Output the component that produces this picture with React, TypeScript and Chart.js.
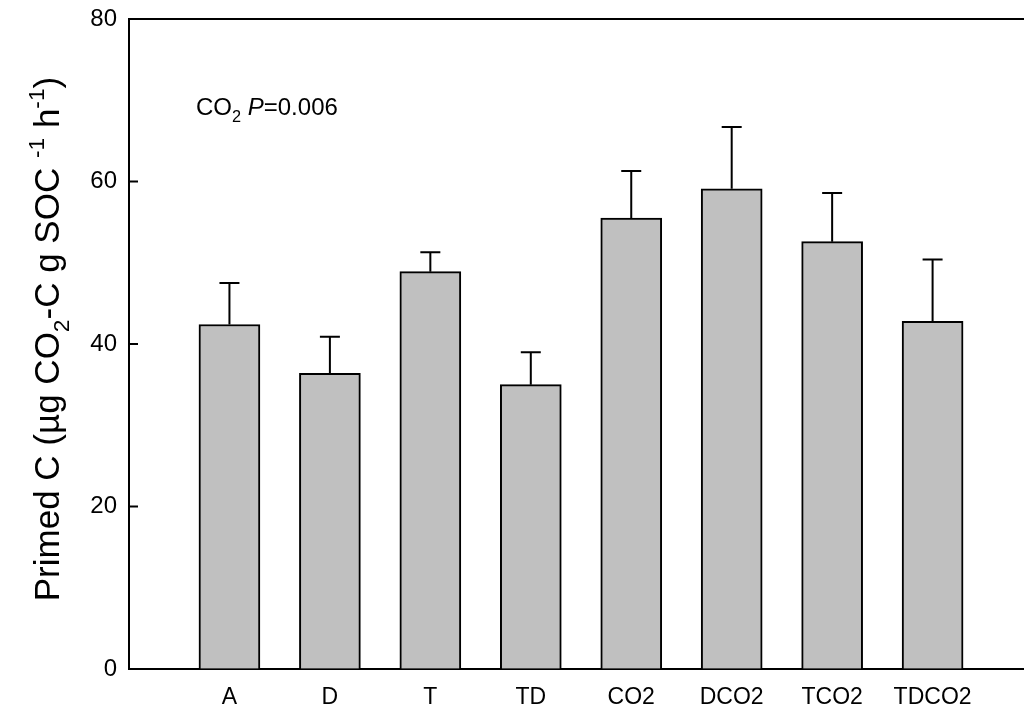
import React, { useEffect, useRef } from 'react';
import { Chart, registerables } from 'chart.js';

Chart.register(...registerables);

const categories = ['A', 'D', 'T', 'TD', 'CO2', 'DCO2', 'TCO2', 'TDCO2'];
const means = [42.4, 36.4, 48.9, 35.0, 55.5, 59.1, 52.6, 42.8];
const errors = [5.1, 4.5, 2.4, 4.0, 5.8, 7.6, 6.0, 7.6];
const yTicks = [0, 20, 40, 60, 80];

const FONT = '"Liberation Sans", Arial, Helvetica, sans-serif';

type Seg = { text: string; size: number; dy?: number; italic?: boolean };

function segFont(s: Seg) {
  return `${s.italic ? 'italic ' : ''}${s.size}px ${FONT}`;
}

function drawRich(ctx: CanvasRenderingContext2D, segs: Seg[], x: number, y: number, align: 'left' | 'center') {
  let total = 0;
  for (const s of segs) {
    ctx.font = segFont(s);
    total += ctx.measureText(s.text).width;
  }
  let cx = align === 'center' ? x - total / 2 : x;
  ctx.textAlign = 'left';
  ctx.textBaseline = 'alphabetic';
  for (const s of segs) {
    ctx.font = segFont(s);
    ctx.fillText(s.text, cx, y + (s.dy || 0));
    cx += ctx.measureText(s.text).width;
  }
}

const TS = 35;
const titleSegs: Seg[] = [
  { text: 'Primed C (\u00b5g CO', size: TS },
  { text: '2', size: TS * 0.65, dy: TS * 0.28 },
  { text: '-C g SOC ', size: TS },
  { text: '-1', size: TS * 0.65, dy: -TS * 0.42 },
  { text: ' h', size: TS },
  { text: '-1', size: TS * 0.65, dy: -TS * 0.42 },
  { text: ')', size: TS },
];

const AS = 24;
const annotSegs: Seg[] = [
  { text: 'CO', size: AS },
  { text: '2', size: AS * 0.68, dy: AS * 0.28 },
  { text: ' ', size: AS },
  { text: 'P', size: AS, italic: true },
  { text: '=0.006', size: AS },
];
const annotX = 0.667;
const annotY = 68.2;

const framePlugin = {
  id: 'frame',
  afterDatasetsDraw(chart: any) {
    const { ctx, chartArea } = chart;
    const y = chart.scales.y;
    const meta = chart.getDatasetMeta(0);
    ctx.save();
    ctx.strokeStyle = '#000';
    ctx.lineWidth = 2;
    meta.data.forEach((bar: any, i: number) => {
      const top = y.getPixelForValue(means[i] + errors[i]);
      ctx.beginPath();
      ctx.moveTo(bar.x, bar.y);
      ctx.lineTo(bar.x, top);
      ctx.moveTo(bar.x - 10, top);
      ctx.lineTo(bar.x + 10, top);
      ctx.stroke();
    });
    // top border
    ctx.beginPath();
    ctx.moveTo(chartArea.left - 1, chartArea.top);
    ctx.lineTo(chartArea.right, chartArea.top);
    ctx.stroke();
    // inward ticks
    yTicks.forEach((v) => {
      const py = y.getPixelForValue(v);
      ctx.beginPath();
      ctx.moveTo(chartArea.left, py);
      ctx.lineTo(chartArea.left + 9, py);
      ctx.stroke();
    });
    ctx.restore();
  },
  afterDraw(chart: any) {
    const { ctx } = chart;
    const x = chart.scales.x;
    const y = chart.scales.y;
    ctx.save();
    ctx.fillStyle = '#000';
    drawRich(ctx, annotSegs, x.getPixelForValue(annotX), y.getPixelForValue(annotY), 'left');
    ctx.translate(59, 339);
    ctx.rotate(-Math.PI / 2);
    drawRich(ctx, titleSegs, 0, 0, 'center');
    ctx.restore();
  },
};

export default function App() {
  const ref = useRef<HTMLCanvasElement | null>(null);
  useEffect(() => {
    if (!ref.current) return;
    const chart = new Chart(ref.current, {
      type: 'bar',
      data: {
        datasets: [
          {
            data: means.map((m, i) => ({ x: i + 1, y: m })),
            backgroundColor: '#c0c0c0',
            borderColor: '#000',
            borderWidth: 2,
            barThickness: 61,
          },
        ],
      },
      options: {
        responsive: false,
        animation: false,
        layout: { padding: { top: 19, right: 0, left: 0, bottom: 0 } },
        plugins: { legend: { display: false }, tooltip: { enabled: false } },
        scales: {
          x: {
            type: 'linear',
            offset: false,
            min: 0,
            max: 8.91,
            afterBuildTicks: (s: any) => {
              s.ticks = categories.map((_, i) => ({ value: i + 1 }));
            },
            afterFit: (s: any) => {
              s.height = 51;
              s.paddingLeft = 0;
              s.paddingRight = 0;
            },
            ticks: {
              autoSkip: false,
              maxRotation: 0,
              padding: 15,
              color: '#000',
              font: { size: 23, family: FONT },
              callback: (v: any) => categories[Math.round(Number(v)) - 1] ?? '',
            },
            grid: { display: true, offset: false, drawOnChartArea: false, drawTicks: false },
            border: { display: true, color: '#000', width: 2 },
          },
          y: {
            min: 0,
            max: 80,
            afterBuildTicks: (s: any) => {
              s.ticks = yTicks.map((v) => ({ value: v }));
            },
            afterFit: (s: any) => {
              s.width = 129;
              s.paddingTop = 0;
              s.paddingBottom = 0;
            },
            ticks: {
              padding: 12,
              color: '#000',
              font: { size: 24, family: FONT },
            },
            grid: { display: true, drawOnChartArea: false, drawTicks: false },
            border: { display: true, color: '#000', width: 2 },
          },
        },
      },
      plugins: [framePlugin],
    } as any);
    return () => chart.destroy();
  }, []);
  return (
    <div style={{ position: 'fixed', left: 0, top: 0, width: 1024, height: 720, background: '#fff' }}>
      <canvas ref={ref} width={1024} height={720} style={{ display: 'block' }} />
    </div>
  );
}
